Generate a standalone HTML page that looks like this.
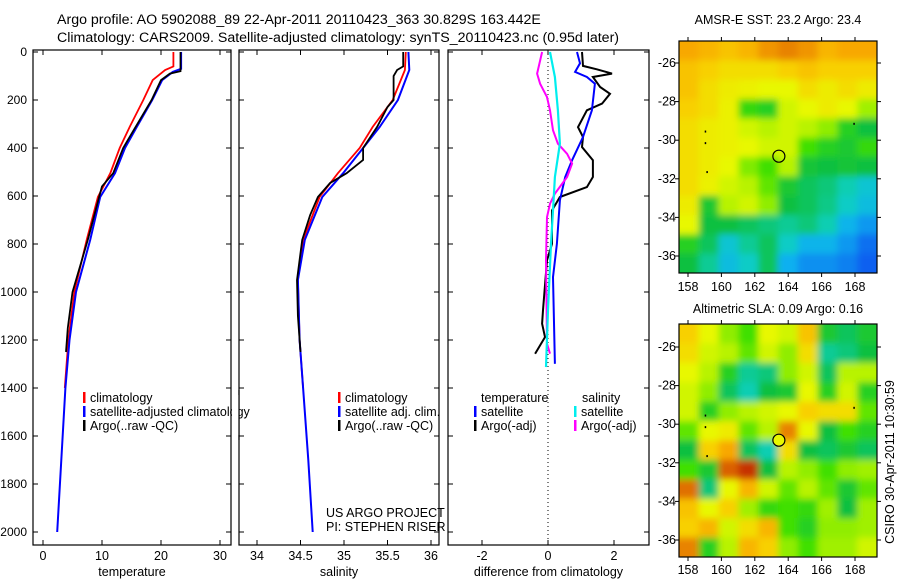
<!DOCTYPE html>
<html><head><meta charset="utf-8"><style>
body{margin:0;background:#fff}
svg{display:block;font-family:"Liberation Sans",sans-serif}
</style></head><body>
<svg id="c" width="900" height="580" viewBox="0 0 900 580" xmlns="http://www.w3.org/2000/svg">
<defs>
<filter id="bl" x="-5%" y="-5%" width="110%" height="110%"><feGaussianBlur stdDeviation="3.5"/></filter>
<clipPath id="cm1"><rect x="679" y="41" width="198" height="232"/></clipPath>
<clipPath id="cm2"><rect x="679" y="324" width="198" height="233"/></clipPath>
</defs>
<text x="57" y="24" font-size="14.2">Argo profile: AO 5902088_89 22-Apr-2011 20110423_363 30.829S 163.442E</text>
<text x="57" y="42" font-size="14.2">Climatology: CARS2009. Satellite-adjusted climatology: synTS_20110423.nc (0.95d later)</text>
<g id="g"></g>
</svg>
<script>
// ---- data ----
const tempClimP=[0,60,75,117,200,312,400,505,604,783,1000,1200,1400];
const tempClimV=[22.1,22.1,20.7,18.6,17.0,14.7,13.0,11.4,9.3,7.4,5.3,4.3,3.7];
const tempSatP=[0,70,83,117,200,312,400,505,604,783,1000,1200,1400,1700,2000];
const tempSatV=[23.4,23.4,22.0,20.2,18.5,15.9,13.9,12.2,9.7,8.0,5.6,4.5,3.8,3.1,2.4];
const tempArgoP=[0,80,90,117,200,312,400,505,560,604,783,1000,1150,1250];
const tempArgoV=[23.3,23.3,21.5,20.0,18.4,15.7,13.6,11.9,10.0,9.5,7.6,5.0,4.2,3.9];
const salClimP=[0,75,200,312,400,505,604,783,950,1200,1400];
const salClimV=[35.71,35.70,35.56,35.33,35.18,34.93,34.72,34.53,34.47,34.49,34.53];
const salSatP=[0,75,200,312,400,505,604,783,950,1200,1400,1700,2000];
const salSatV=[35.74,35.75,35.62,35.41,35.22,34.99,34.75,34.55,34.47,34.49,34.53,34.59,34.64];
const salArgoP=[0,60,75,100,200,229,312,400,450,505,546,604,680,783,950,1100,1250];
const salArgoV=[35.68,35.68,35.61,35.57,35.57,35.50,35.38,35.22,35.22,35.03,34.84,34.70,34.61,34.52,34.46,34.47,34.50];
const dTempSatP=[0,47,83,104,132,243,354,451,521,618,799,938,1299];
const dTempSatV=[0.88,0.97,0.82,1.18,1.42,1.33,1.06,0.73,0.52,0.36,0.27,0.15,0.21];
const dTempArgoP=[0,58,72,90,104,146,174,215,243,313,354,396,451,521,563,604,660,799,868,1076,1132,1188,1257];
const dTempArgoV=[1.03,1.06,1.48,1.94,1.36,1.58,1.88,1.64,1.18,0.91,1.06,1.03,1.36,1.36,1.18,0.36,0.12,0.12,-0.03,-0.15,-0.18,-0.09,-0.39];
const dSalSatP=[0,104,243,382,521,660,799,1076,1313];
const dSalSatV=[0.06,0.21,0.30,0.36,0.21,0.15,0.09,0.0,-0.06];
const dSalArgoP=[0,90,132,188,243,326,382,424,465,521,590,632,688,868,1215,1257];
const dSalArgoV=[-0.18,-0.33,-0.24,-0.03,0.06,0.15,0.30,0.58,0.73,0.58,0.21,0.06,-0.03,-0.06,-0.03,0.06];
const depthTicks=[0,200,400,600,800,1000,1200,1400,1600,1800,2000];
const tempTicks=[0,10,20,30];
const salTicks=[34,34.5,35,35.5,36];
const diffTicks=[-2,0,2];
const lonTicks=[158,160,162,164,166,168];
const latTicks=[-26,-28,-30,-32,-34,-36];
const sstGrid=[
[.74,.72,.70,.72,.76,.78,.76,.72,.74,.74],
[.70,.68,.66,.66,.66,.68,.70,.68,.68,.68],
[.70,.66,.64,.63,.62,.62,.66,.64,.66,.64],
[.68,.66,.63,.48,.46,.60,.62,.64,.62,.56],
[.66,.64,.63,.60,.58,.60,.58,.55,.46,.42],
[.66,.64,.63,.62,.60,.60,.50,.46,.44,.48],
[.66,.64,.62,.54,.50,.58,.43,.42,.43,.42],
[.66,.63,.60,.58,.52,.44,.40,.38,.34,.30],
[.64,.44,.58,.60,.55,.42,.40,.37,.32,.28],
[.62,.42,.42,.40,.38,.36,.38,.34,.26,.22],
[.46,.40,.30,.36,.40,.32,.26,.26,.22,.17],
[.42,.36,.28,.32,.40,.25,.21,.21,.19,.15]];
const slaGrid=[
[.68,.62,.55,.50,.62,.60,.70,.44,.40,.44],
[.66,.60,.58,.52,.60,.55,.66,.36,.38,.42],
[.62,.58,.46,.36,.38,.55,.60,.40,.58,.58],
[.60,.55,.40,.34,.42,.44,.62,.46,.60,.46],
[.60,.46,.55,.58,.60,.62,.68,.66,.66,.52],
[.52,.62,.64,.52,.58,.78,.62,.42,.50,.46],
[.42,.68,.74,.40,.34,.66,.42,.40,.44,.40],
[.50,.44,.82,.88,.42,.58,.55,.50,.55,.56],
[.80,.38,.62,.72,.60,.52,.58,.52,.44,.52],
[.70,.62,.68,.56,.48,.50,.48,.56,.42,.56],
[.68,.72,.60,.66,.72,.50,.46,.55,.55,.56],
[.78,.46,.58,.72,.68,.55,.50,.56,.56,.60]];
const argoLon=163.442, argoLat=-30.829;

// ---- helpers ----
const NS='http://www.w3.org/2000/svg', G=document.getElementById('g');
function mk(t,a,p){const e=document.createElementNS(NS,t);for(const k in a)e.setAttribute(k,a[k]);(p||G).appendChild(e);return e;}
const yP=p=>52+0.24*p;
const xT=v=>43+5.9*v, xS=v=>257+87*(v-34), xD=v=>548+33*v;
const panels=[{l:33,r:231,n:'temperature'},{l:239,r:439,n:'salinity'},{l:448,r:649,n:'difference'}];
const TOP=50,BOT=545;
panels.forEach(pn=>{
  const r=mk('rect',{x:pn.l,y:TOP,width:pn.r-pn.l,height:BOT-TOP,fill:'#fff',stroke:'none'});
  
  
});
function line(P,V,fx,col,w,name){
  const pts=P.map((p,i)=>fx(V[i]).toFixed(1)+','+yP(p).toFixed(1)).join(' ');
  const e=mk('polyline',{points:pts,fill:'none',stroke:col,'stroke-width':w,'stroke-linejoin':'miter'});
  
  
}
line(tempClimP,tempClimV,xT,'#f00',1.8,'temp-climatology-line');
line(tempSatP,tempSatV,xT,'#00f',2,'temp-satellite-line');
line(tempArgoP,tempArgoV,xT,'#000',1.8,'temp-argo-line');
line(salClimP,salClimV,xS,'#f00',1.8,'sal-climatology-line');
line(salSatP,salSatV,xS,'#00f',2,'sal-satellite-line');
line(salArgoP,salArgoV,xS,'#000',1.8,'sal-argo-line');
const zl=mk('line',{x1:xD(0),x2:xD(0),y1:TOP,y2:BOT,stroke:'#000','stroke-width':1,'stroke-dasharray':'1,3'});


line(dTempArgoP,dTempArgoV,xD,'#000',2,'diff-temp-argo-line');
line(dTempSatP,dTempSatV,xD,'#00f',2,'diff-temp-satellite-line');
line(dSalArgoP,dSalArgoV,xD,'#f0f',2,'diff-sal-argo-line');
line(dSalSatP,dSalSatV,xD,'#0ee',2.2,'diff-sal-satellite-line');

function txt(x,y,s,sz,anchor,name,extra){
  const e=mk('text',Object.assign({x:x,y:y,'font-size':sz,'text-anchor':anchor||'start'},extra||{}));
  e.textContent=s;
  
  
  return e;
}
const fx=[xT,xS,xD], tk=[tempTicks,salTicks,diffTicks], lbl=['temperature','salinity','difference from climatology'];
panels.forEach((pn,i)=>{
  const f=mk('rect',{x:pn.l,y:TOP,width:pn.r-pn.l,height:BOT-TOP,fill:'none',stroke:'#000','stroke-width':1.2});
  
  
  depthTicks.forEach(d=>{
    const y=yP(d);
    mk('line',{x1:pn.l,x2:pn.l+5,y1:y,y2:y,stroke:'#000'});
    mk('line',{x1:pn.r-5,x2:pn.r,y1:y,y2:y,stroke:'#000'});
  });
  tk[i].forEach(v=>{
    const x=fx[i](v);
    mk('line',{x1:x,x2:x,y1:BOT-5,y2:BOT,stroke:'#000'});
    mk('line',{x1:x,x2:x,y1:TOP,y2:TOP+5,stroke:'#000'});
    txt(x,560,String(v),12.5,'middle',pn.n+'-tick-label');
  });
  txt((pn.l+pn.r)/2,576,lbl[i],12.5,'middle',pn.n+'-axis-title');
});
depthTicks.forEach(d=>txt(27,yP(d)+4,String(d),12,'end','depth-tick-label'));

function leg(x,y,col,s,name){
  const b=mk('rect',{x:x,y:y-10,width:2.5,height:11,fill:col});
  
  
  txt(x+7,y,s,12.5,'start',name);
}
leg(83,402,'#f00','climatology','temp-legend-climatology');
leg(83,416,'#00f','satellite-adjusted climatology','temp-legend-satellite');
leg(83,430,'#000','Argo(..raw -QC)','temp-legend-argo');
mk('rect',{x:232,y:395,width:6.5,height:40,fill:'#fff'});
mk('line',{x1:239,x2:239,y1:390,y2:440,stroke:'#000','stroke-width':1.2});
leg(338,402,'#f00','climatology','sal-legend-climatology');
leg(338,416,'#00f','satellite adj. clim.','sal-legend-satellite');
leg(338,430,'#000','Argo(..raw -QC)','sal-legend-argo');
txt(326,517,'US ARGO PROJECT',12.5,'start','project-credit');
txt(326,531,'PI: STEPHEN RISER',12.5,'start','pi-credit');
txt(481,402,'temperature',12.5,'start','diff-legend-temp-header');
leg(474,416,'#00f','satellite','diff-legend-temp-satellite');
leg(474,430,'#000','Argo(-adj)','diff-legend-temp-argo');
txt(582,402,'salinity',12.5,'start','diff-legend-sal-header');
leg(574,416,'#0ee','satellite','diff-legend-sal-satellite');
leg(574,430,'#f0f','Argo(-adj)','diff-legend-sal-argo');

// ---- maps ----
const stops=[[0.15,[16,96,240]],[0.25,[16,176,240]],[0.33,[16,208,192]],[0.42,[16,192,64]],[0.5,[64,224,0]],[0.56,[160,240,0]],[0.62,[232,248,0]],[0.68,[248,208,0]],[0.74,[248,168,0]],[0.8,[224,112,0]],[0.9,[192,32,0]]];
function cmap(v){
  if(v<=stops[0][0])return 'rgb('+stops[0][1]+')';
  for(let i=1;i<stops.length;i++){if(v<=stops[i][0]){const a=stops[i-1],b=stops[i],t=(v-a[0])/(b[0]-a[0]);return 'rgb('+a[1].map((c,k)=>Math.round(c+t*(b[1][k]-c))).join(',')+')';}}
  return 'rgb('+stops[stops.length-1][1]+')';
}
const mx=lon=>688+16.7*(lon-158);
function drawMap(grid,top,h,lat26y,clip,name,title,fillCircle,labY){
  const xL=679,w=198;
  const g=mk('g',{'clip-path':'url(#'+clip+')'});
  
  
  const inner=mk('g',{filter:'url(#bl)'},g);
  const nr=grid.length,nc=grid[0].length,cw=w/nc,ch=h/nr;
  mk('rect',{x:xL-20,y:top-20,width:w+40,height:h+40,fill:cmap(0.62)},inner);
  grid.forEach((row,r)=>row.forEach((v,c)=>{
    const e=mk('rect',{x:xL+c*cw-(c==0?20:0),y:top+r*ch-(r==0?20:0),width:cw+(c==0||c==nc-1?20:0)+0.5,height:ch+(r==0||r==nr-1?20:0)+0.5,fill:cmap(v)},inner);
    
    
  }));
  const my=lat=>lat26y+19.3*(-26-lat);
  const f=mk('rect',{x:xL,y:top,width:w,height:h,fill:'none',stroke:'#000','stroke-width':1.2});
  
  
  lonTicks.forEach(l=>{
    const x=mx(l);
    mk('line',{x1:x,x2:x,y1:top,y2:top-4,stroke:'#000'});
    mk('line',{x1:x,x2:x,y1:top+h,y2:top+h+4,stroke:'#000'});
    txt(x,labY,String(l),12.5,'middle',name+'-lon-label');
  });
  latTicks.forEach(l=>{
    const y=my(l);
    mk('line',{x1:xL,x2:xL-4,y1:y,y2:y,stroke:'#000'});
    mk('line',{x1:xL+w,x2:xL+w+4,y1:y,y2:y,stroke:'#000'});
    txt(676,y+4,String(l),12.5,'end',name+'-lat-label');
  });
  [[159,-29.5],[159,-30.1],[159.1,-31.6],[167.9,-29.1]].forEach(d=>mk('rect',{x:mx(d[0]),y:my(d[1]),width:1.5,height:2,fill:'#000'}));
  const c=mk('circle',{cx:mx(argoLon),cy:my(argoLat),r:6,fill:fillCircle,stroke:'#000','stroke-width':1.2});
  
  
  txt(xL+w/2,top-(name=='sst-map'?17:11),title,12.5,'middle',name+'-title');
}
drawMap(sstGrid,41,232,63,'cm1','sst-map','AMSR-E SST: 23.2 Argo: 23.4','none',291);
drawMap(slaGrid,324,233,347,'cm2','sla-map','Altimetric SLA: 0.09 Argo: 0.16','#e8f800',574);
txt(894,462,'CSIRO 30-Apr-2011 10:30:59',12.5,'middle','timestamp-label',{transform:'rotate(-90 894 462)'});
</script>
</body></html>
